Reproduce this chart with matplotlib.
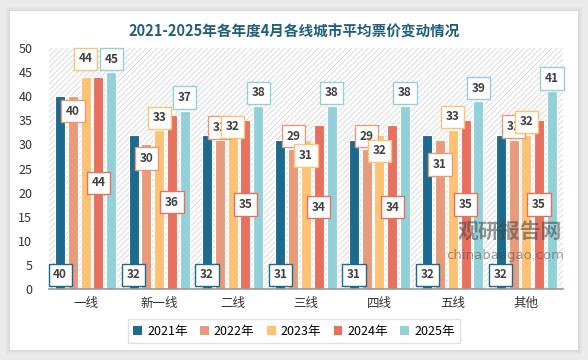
import numpy as np
import matplotlib
matplotlib.use('Agg')
import matplotlib.pyplot as plt
from matplotlib.patches import Rectangle

plt.rcParams['font.family'] = ['Noto Sans CJK SC', 'DejaVu Sans']
plt.rcParams['hatch.linewidth'] = 0.6

categories = ['一线', '新一线', '二线', '三线', '四线', '五线', '其他']
years = ['2021年', '2022年', '2023年', '2024年', '2025年']
v2021 = [40, 32, 32, 31, 31, 32, 32]
v2022 = [40, 30, 31, 29, 29, 31, 31]
v2023 = [44, 33, 32, 31, 32, 33, 32]
v2024 = [44, 36, 35, 34, 34, 35, 35]
v2025 = [45, 37, 38, 38, 38, 39, 41]
series = [v2021, v2022, v2023, v2024, v2025]
colors = ['#1c6a8d', '#e89b7b', '#fdc274', '#e8705f', '#93d1da']

# label offsets (pixels from bar top) for the hand-placed labels
off2022 = [-15, -14, 12, 13, 13, -25, 13]
off2023 = [18, 12, 8, -16, -16, 13, 13]
off2025 = [13, 13, 13, 13, 13, 13, 13]

fig = plt.figure(figsize=(5.88, 3.6), dpi=100)
fig.patch.set_facecolor('#ebebeb')
# card with soft shadow
for i in range(4):
    d = (4 - i) / 588
    fig.patches.append(Rectangle((10 / 588 - d, 10 / 360 - d * 1.6), 568 / 588 + 2 * d, 339 / 360 + 2 * d * 1.6,
                                 transform=fig.transFigure, facecolor='#999999', alpha=0.05,
                                 edgecolor='none', zorder=-3))
fig.patches.append(Rectangle((10 / 588, 10 / 360), 568 / 588, 339 / 360, transform=fig.transFigure,
                             facecolor='white', edgecolor='none', zorder=-2))

ax = fig.add_axes([49 / 588, 71 / 360, 514 / 588, 241 / 360])
ax.set_zorder(2)
ax.set_facecolor('none')
ax.add_patch(Rectangle((0, 0), 1, 1, transform=ax.transAxes, facecolor='white', edgecolor='#d4d4d4',
                       hatch='//////', linewidth=0, zorder=0))

x = np.arange(len(categories))
w = 0.136
pitch = 0.174
for k, vals in enumerate(series):
    xs = x + (k - 2) * pitch
    ax.bar(xs + 0.012, vals, w, bottom=0, color='#bbbbbb', alpha=0.5, zorder=1)
    ax.bar(xs, vals, w, color=colors[k], edgecolor='white', linewidth=0.8, zorder=2, label=years[k])
    for j, v in enumerate(vals):
        if k == 0:
            xy, off = (xs[j], 0), 14
        elif k == 3:
            xy, off = (xs[j], v / 2), 0
        else:
            xy = (xs[j], v)
            off = [None, off2022, off2023, None, off2025][k][j]
        ax.annotate(str(v), xy=xy, xytext=(0, off), textcoords='offset pixels', ha='center', va='center',
                    fontsize=8.5, fontweight='bold', color='#404040', zorder=5,
                    bbox=dict(boxstyle='square,pad=0.4', facecolor='white', edgecolor=colors[k], linewidth=1.0))

ax.set_xlim(-0.5, len(categories) - 0.5)
ax.set_ylim(0, 50)
ax.set_yticks(np.arange(0, 51, 5))
ax.set_xticks(x)
ax.set_xticklabels(categories)
ax.tick_params(axis='both', length=0, labelsize=9, colors='#333333')
ax.tick_params(axis='y', pad=12)
ax.tick_params(axis='x', pad=6)
for s in ['top', 'right', 'left']:
    ax.spines[s].set_visible(False)
ax.spines['bottom'].set_color('#999999')
ax.spines['bottom'].set_linewidth(1.2)

handles, labels = ax.get_legend_handles_labels()
leg = fig.legend(handles[:5], labels[:5], loc='center', bbox_to_anchor=(294 / 588, 1 - 331 / 360), ncol=5,
                 fontsize=9, frameon=True, fancybox=False, handlelength=0.7, handleheight=0.7,
                 handletextpad=0.4, columnspacing=1.0, borderpad=0.45, borderaxespad=0)
leg.get_frame().set_edgecolor('#d9d9d9')
leg.get_frame().set_linewidth(1.0)
for h in leg.legend_handles:
    h.set_edgecolor('none')
leg.set_zorder(10)

fig.text(294 / 588, 1 - 32 / 360, '2021-2025年各年度4月各线城市平均票价变动情况', ha='center', va='center',
         fontsize=10.5, fontweight='bold', color='#1f5f7b', zorder=10)

# watermark
fig.text(510 / 588, 1 - 231 / 360, '观研报告网', ha='center', va='center', fontsize=15, fontweight='bold',
         color='#444444', alpha=0.55, zorder=10)
fig.text(505 / 588, 1 - 256 / 360, 'chinabaogao.com', ha='center', va='center', fontsize=9.5,
         color='#444444', alpha=0.5, zorder=10, family=['DejaVu Sans'])

fig.savefig('out.png', dpi=100)
